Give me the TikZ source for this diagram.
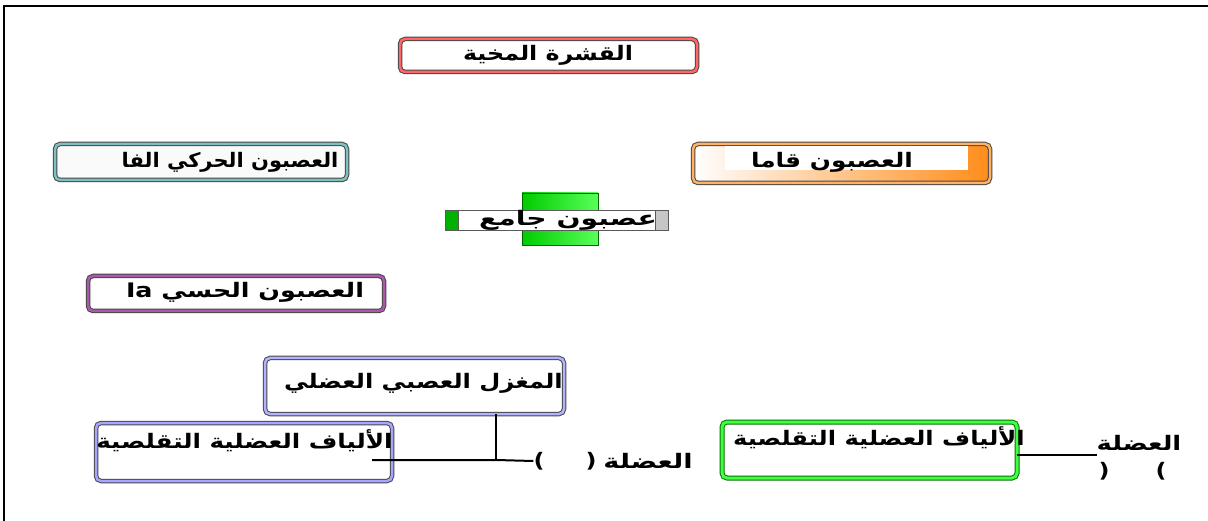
\documentclass[tikz,border=0pt]{standalone}
\usepackage{fontspec}
\newfontfamily\arfont[Script=Arabic]{DejaVu Sans}
\TeXXeTstate=1
\begin{document}
\begin{tikzpicture}[x=1pt,y=-1pt,
  ar/.style={font=\arfont\bfseries\fontsize{20}{24}\selectfont, inner sep=0pt, transform shape, xscale=#1},
  ar/.default=1.22,
  pbox/.style={rounded corners=5pt, draw=gray!55!black, line width=1pt, double distance=2.5pt, fill=white},
  conn/.style={line width=2pt, black}]
\useasboundingbox (0,0) rectangle (1208,521);
\fill[white] (0,0) rectangle (1208,521);
% frame (left and top only)
\draw[line width=2.4pt] (4,521) -- (4,6) -- (1208,6);

% boxes
\draw[pbox, double=red!60] (400,39) rectangle (697,72);
\node (cortex) at (548,55) {};
\draw[pbox, double=teal!50, fill=gray!4] (55,144) rectangle (347,180);
\node (alpha) at (200,162) {};
\shade[rounded corners=5pt, left color=white, right color=orange!90] (693,144) rectangle (990,183);
\draw[pbox, double=orange!60, fill=none] (693,144) rectangle (990,183);
\fill[white] (725,146) rectangle (968,170);
\node (gamma) at (840,163) {};
% interneuron
\shade[left color=green!80!black, right color=green!65, draw=green!40!black] (522,193) rectangle (598,245);
\fill[white, draw=gray!70!black, line width=0.8pt] (445,210) rectangle (668,230);
\fill[green!70!black, draw=gray!70!black, line width=0.8pt] (445,210) rectangle (458,230);
\fill[gray!45, draw=gray!70!black, line width=0.8pt] (655,210) rectangle (668,230);
\node (inter) at (556,220) {};
\draw[pbox, double=violet!65] (88,276) rectangle (384,311);
\node (ia) at (236,293) {};
\draw[pbox, double=blue!30] (265,358) rectangle (564,414);
\node (spindle) at (415,386) {};
\draw[pbox, double=blue!35] (96,423) rectangle (392,481);
\node (fibL) at (244,452) {};
\draw[rounded corners=5pt, draw=green!45!black, line width=1pt, double=green!75, double distance=3pt, fill=white] (722,422) rectangle (1017,478);
\node (fibR) at (870,450) {};

% texts
\node[ar=1.19] (tcortex) at (548,55) {\beginR القشرة المخية\endR};
\node[ar=1.05] (talpha) at (230,162) {\beginR العصبون الحركي الفا\endR};
\node[ar=1.24] (tgamma) at (832,162) {\beginR العصبون قاما\endR};
\node[ar=1.41] (tinter) at (568,220) {\beginR عصبون جامع\endR};
\node[ar=1.27] (tia) at (245,292) {\beginR العصبون الحسي \beginL Ia\endL\endR};
\node[ar=1.21, anchor=east] (tspindle) at (563,383) {\beginR المغزل العصبي العضلي\endR};
\node[ar=1.23, anchor=east] (tfibL) at (393,441) {\beginR الألياف العضلية التقلصية\endR};
\node[ar=1.21, anchor=east] (tfibR) at (1025,438) {\beginR الألياف العضلية التقلصية\endR};
\node[ar=1.36] (muscleL) at (648,461) {\beginR العضلة\endR};
\node[ar=1.2] (pL1) at (591,461) {(};
\node[ar=1.2] (pL2) at (539,461) {)};
\node[ar=1.29] (muscleR) at (1139,443) {\beginR العضلة\endR};
\node[ar=1.2] (pR1) at (1104,471) {(};
\node[ar=1.2] (pR2) at (1161,471) {)};

% connectors
\coordinate (jn) at (496,460);
\coordinate (jtop) at (496,414);
\coordinate (lstart) at (372,460);
\coordinate (rstart) at (1017,455);
\coordinate (rend) at (1097,455);
\draw[conn, line width=2.6pt] (jtop) -- (jn);
\draw[conn] (lstart) -- (jn) -- (pL2.west);
\draw[conn] (rstart) -- (rend);
\end{tikzpicture}
\end{document}
